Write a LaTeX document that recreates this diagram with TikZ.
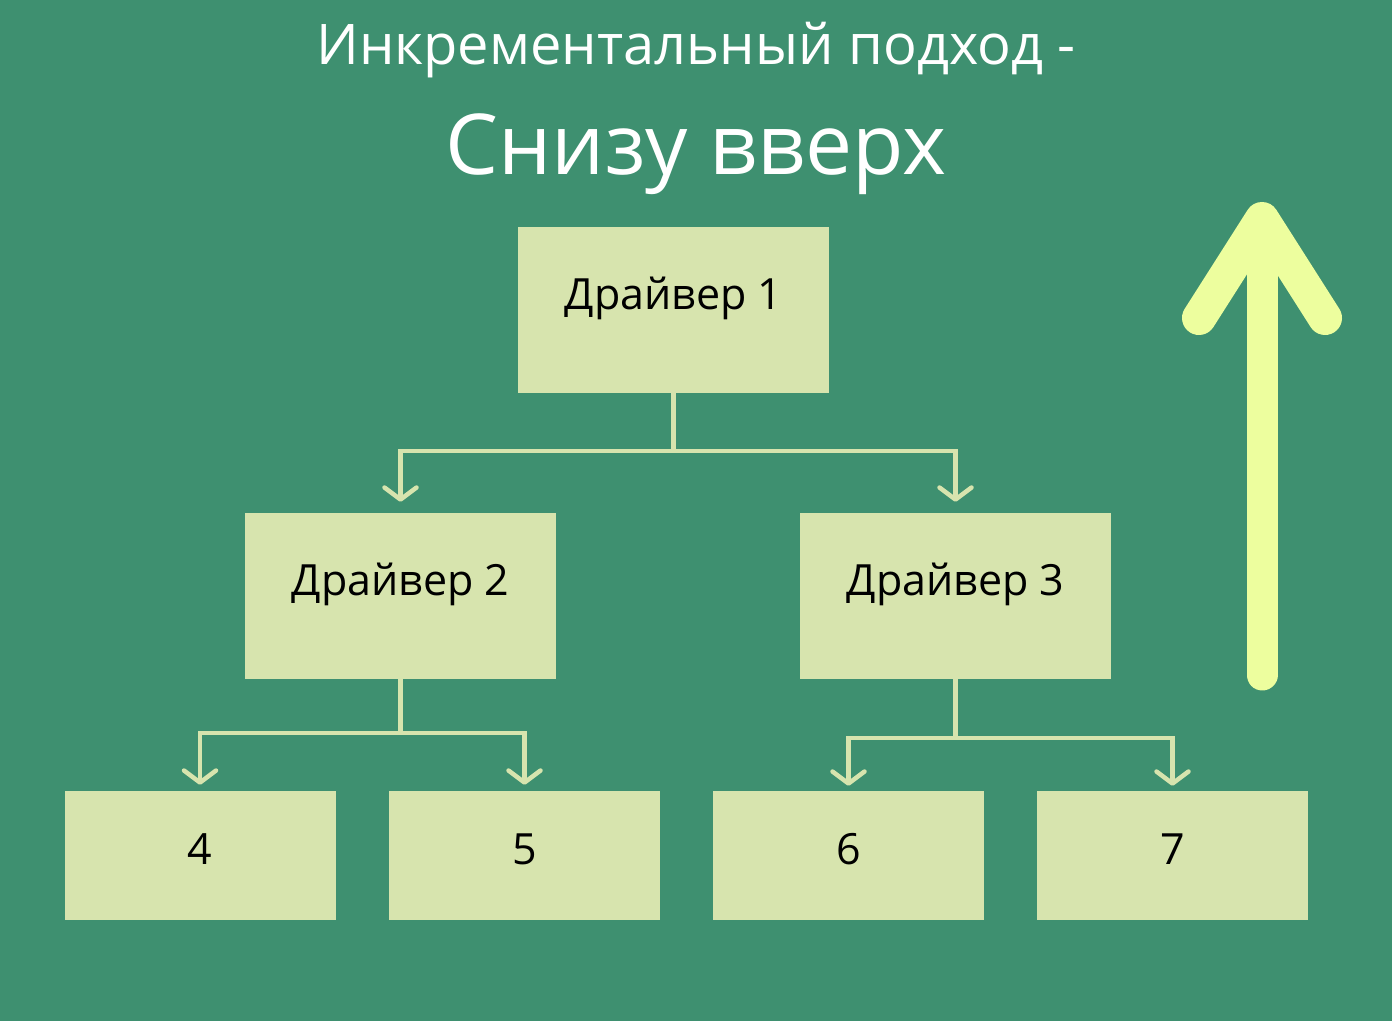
\documentclass[tikz,border=0pt]{standalone}
\usepackage{fontspec}
\setmainfont{Open Sans}
\usetikzlibrary{arrows.meta}
\definecolor{bg}{RGB}{62,144,112}
\definecolor{boxc}{RGB}{215,228,174}
\definecolor{bigarrow}{RGB}{237,254,158}
\tikzset{
  drvbox/.style={fill=boxc, draw=none, minimum width=311pt, minimum height=166pt, inner sep=0pt, font=\fontsize{43}{50}\selectfont, text=black, text height=10pt, text depth=10pt},
  leafbox/.style={fill=boxc, draw=none, minimum width=271pt, minimum height=129pt, inner sep=0pt, font=\fontsize{43}{50}\selectfont, text=black, text height=27pt, text depth=10pt},
  conn/.style={draw=boxc, line width=4.5pt, -{Straight Barb[length=12pt,width=32pt,round]}},
  titletext/.style={text=white, anchor=base, inner sep=0pt}
}
\begin{document}
\begin{tikzpicture}[x=1pt,y=1pt]
\fill[bg] (0,0) rectangle (1392,1021);
\useasboundingbox (0,0) rectangle (1392,1021);
\node[titletext, font=\fontsize{56}{64}\selectfont] (t1) at (696,956) {Инкрементальный подход -};
\node[titletext, font=\fontsize{84}{94}\selectfont] (t2) at (696,846) {Снизу вверх};
\node[drvbox] (d1) at (673.5,711) {Драйвер 1};
\node[drvbox] (d2) at (400.5,425) {Драйвер 2};
\node[drvbox] (d3) at (955.5,425) {Драйвер 3};
\node[leafbox] (l4) at (200,165.5) {4};
\node[leafbox] (l5) at (524.5,165.5) {5};
\node[leafbox] (l6) at (848.5,165.5) {6};
\node[leafbox] (l7) at (1172.5,165.5) {7};
\draw[conn, shorten >=11pt] (d1.south) -- ++(0,-58) -| (d2.north);
\draw[conn, shorten >=11pt] (d1.south) -- ++(0,-58) -| (d3.north);
\draw[conn, shorten >=6pt] (d2.south) -- ++(0,-54) -| (l4.north);
\draw[conn, shorten >=6pt] (d2.south) -- ++(0,-54) -| (l5.north);
\draw[conn, shorten >=5pt] (d3.south) -- ++(0,-59) -| (l6.north);
\draw[conn, shorten >=5pt] (d3.south) -- ++(0,-59) -| (l7.north);
\draw[bigarrow, line width=34pt, line cap=round, line join=round]
  (1199,703) -- (1262,802) -- (1325,703);
\draw[bigarrow, line width=31pt, line cap=round] (1262,795) -- (1262,346);
\end{tikzpicture}
\end{document}
